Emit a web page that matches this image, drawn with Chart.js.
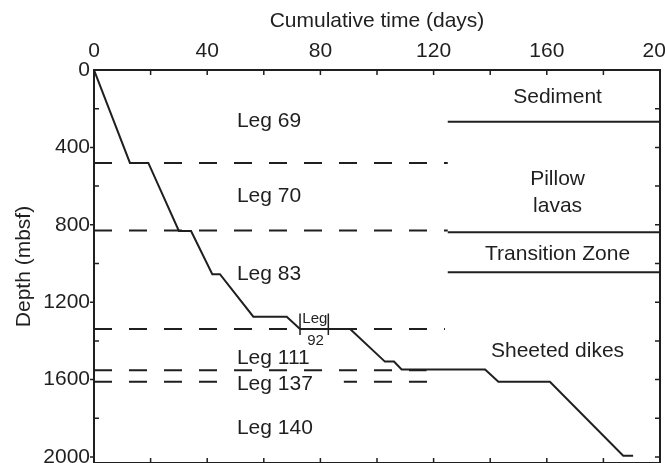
<!DOCTYPE html>
<html>
<head>
<meta charset="utf-8">
<script src="https://cdn.jsdelivr.net/npm/chart.js@4.4.1/dist/chart.umd.min.js"></script>
<style>
  html, body { margin: 0; padding: 0; background: #fff; overflow: hidden; }
  #wrap { width: 665px; height: 470px; }
</style>
</head>
<body>
<div id="wrap"><canvas id="drillChart" width="665" height="470"></canvas></div>
<script>
// Drilling progress: cumulative days on site vs. depth reached
const legDays   = [0, 12.7, 19.2, 30.0, 34.3, 41.8, 44.5, 56.3, 68.1, 72.8, 90.5, 102.8, 106.0, 108.7, 138.2, 142.9, 161.1, 187.0, 190.5];
const legDepths = [0, 480, 480, 832, 832, 1055, 1055, 1275, 1275, 1338, 1338, 1507, 1507, 1548, 1548, 1611, 1611, 1993, 1993];

// depth reached at the end of each leg (dashed lines)
const boundaryDepths  = [480, 830, 1338, 1552, 1611];
const boundaryEndDays = [125, 125, 124, 117.5, 120.5];

// lithologic unit contacts (solid lines on the right)
const unitDepths   = [267, 838, 1045];
const unitStartDay = 125;

// Leg 92 bracket
const leg92Days  = [72.8, 82.8];
const leg92Range = [1258, 1370];

const xTickValues = [0, 40, 80, 120, 160, 200];
const yTickValues = [0, 400, 800, 1200, 1600, 2000];
const legNames  = ['Leg 69', 'Leg 70', 'Leg 83', 'Leg 111', 'Leg 137', 'Leg 140'];
const unitNames = ['Sediment', 'Pillow', 'lavas', 'Transition Zone', 'Sheeted dikes'];

const ink = '#1f1f1f';
const FONT = '"Liberation Sans", Arial, Helvetica, sans-serif';

// where the text labels sit (day, depth of baseline)
const legLabelDay = 50.5;
const legLabelDepths = [296, 680, 1085, 1519, 1654, 1881];
const unitLabelDay = 163.8;
const unitLabelDepths = [172, 594, 732, 982, 1485];

const datasets = [];
datasets.push({
  data: legDays.map((d, i) => ({ x: d, y: legDepths[i] })),
  borderColor: ink, borderWidth: 2
});
boundaryDepths.forEach((dep, i) => {
  datasets.push({
    data: [{ x: 0, y: dep }, { x: boundaryEndDays[i], y: dep }],
    borderColor: ink, borderWidth: 2, borderDash: [18, 17], borderCapStyle: 'butt'
  });
});
unitDepths.forEach(dep => {
  datasets.push({
    data: [{ x: unitStartDay, y: dep }, { x: 200, y: dep }],
    borderColor: ink, borderWidth: 2
  });
});
leg92Days.forEach(d => {
  datasets.push({
    data: [{ x: d, y: leg92Range[0] }, { x: d, y: leg92Range[1] }],
    borderColor: ink, borderWidth: 1.5
  });
});

// inward ticks on all four sides, short outward ticks at labelled depths
const frameTicks = {
  id: 'frameTicks',
  afterDraw(chart) {
    const { ctx, chartArea: a, scales: { x, y } } = chart;
    ctx.save();
    ctx.strokeStyle = ink;
    ctx.lineWidth = 1.5;
    ctx.beginPath();
    for (let d = 20; d < 200; d += 20) {
      const px = x.getPixelForValue(d);
      ctx.moveTo(px, a.top); ctx.lineTo(px, a.top + 5);
      ctx.moveTo(px, a.bottom); ctx.lineTo(px, a.bottom - 5);
    }
    for (let m = 200; m <= 2000; m += 200) {
      const py = y.getPixelForValue(m);
      if (m % 400) {
        ctx.moveTo(a.left, py); ctx.lineTo(a.left + 5, py);
      } else {
        ctx.moveTo(a.left - 4, py); ctx.lineTo(a.left, py);
      }
      ctx.moveTo(a.right, py); ctx.lineTo(a.right - 5, py);
    }
    ctx.stroke();
    ctx.restore();
  }
};

const textLabels = {
  id: 'textLabels',
  afterDatasetsDraw(chart) {
    const { ctx, scales: { x, y } } = chart;
    ctx.save();
    ctx.fillStyle = ink;
    ctx.textBaseline = 'alphabetic';
    ctx.font = '21px ' + FONT;

    ctx.textAlign = 'left';
    legNames.forEach((name, i) => {
      const px = x.getPixelForValue(legLabelDay);
      const py = y.getPixelForValue(legLabelDepths[i]);
      if (name === 'Leg 137') {
        // the Leg 137 label blanks out the dashed line behind it
        const w = ctx.measureText(name).width;
        ctx.fillStyle = '#fff';
        ctx.fillRect(px - 3, py - 17, w + 34, 22);
        ctx.fillStyle = ink;
      }
      ctx.fillText(name, px, py);
    });

    ctx.textAlign = 'center';
    unitNames.forEach((name, i) => {
      ctx.fillText(name, x.getPixelForValue(unitLabelDay), y.getPixelForValue(unitLabelDepths[i]));
    });

    // Leg 92 bracket text
    ctx.font = '15px ' + FONT;
    ctx.textAlign = 'left';
    ctx.fillText('Leg', x.getPixelForValue(73.6), y.getPixelForValue(1309));
    ctx.textAlign = 'center';
    ctx.fillText('92', x.getPixelForValue(78.3), y.getPixelForValue(1421));
    ctx.restore();
  }
};

const tickFont = { family: FONT, size: 21 };
const plainNumber = v => String(v);

// fixed box sizes so the frame lands at 94..660 x 70..463
function fixBox(size) {
  return s => {
    if (s.isHorizontal()) s.height = size; else s.width = size;
    s.paddingLeft = 0; s.paddingRight = 0; s.paddingTop = 0; s.paddingBottom = 0;
  };
}

new Chart(document.getElementById('drillChart'), {
  type: 'line',
  data: { datasets },
  options: {
    responsive: false,
    devicePixelRatio: 1,
    animation: false,
    layout: { padding: 0 },
    elements: { point: { radius: 0 }, line: { tension: 0, borderJoinStyle: 'miter' } },
    plugins: { legend: { display: false }, tooltip: { enabled: false } },
    scales: {
      x: {
        type: 'linear', position: 'top', min: 0, max: 200,
        afterBuildTicks: s => { s.ticks = xTickValues.map(v => ({ value: v })); },
        afterFit: fixBox(70),
        ticks: { color: ink, font: tickFont, padding: 6, maxRotation: 0, autoSkip: false, callback: plainNumber },
        grid: { display: false, drawTicks: false },
        border: { display: true, color: ink, width: 2 },
        title: { display: true, text: 'Cumulative time (days)', color: ink, font: tickFont, padding: { top: 9, bottom: 0 } }
      },
      xb: {
        type: 'linear', position: 'bottom', min: 0, max: 200,
        afterFit: fixBox(7),
        ticks: { display: false },
        grid: { display: false, drawTicks: false },
        border: { display: true, color: ink, width: 2 }
      },
      y: {
        type: 'linear', position: 'left', reverse: true, min: 0, max: 2031,
        afterBuildTicks: s => { s.ticks = yTickValues.map(v => ({ value: v })); },
        afterFit: fixBox(94),
        ticks: { color: ink, font: tickFont, padding: 4, autoSkip: false, callback: plainNumber },
        grid: { display: false, drawTicks: false },
        border: { display: true, color: ink, width: 2 },
        title: { display: true, text: 'Depth (mbsf)', color: ink, font: tickFont, padding: { top: 12, bottom: 0 } }
      },
      yr: {
        type: 'linear', position: 'right', reverse: true, min: 0, max: 2031,
        afterFit: fixBox(5),
        ticks: { display: false },
        grid: { display: false, drawTicks: false },
        border: { display: true, color: ink, width: 2 }
      }
    }
  },
  plugins: [frameTicks, textLabels]
});
</script>
</body>
</html>
